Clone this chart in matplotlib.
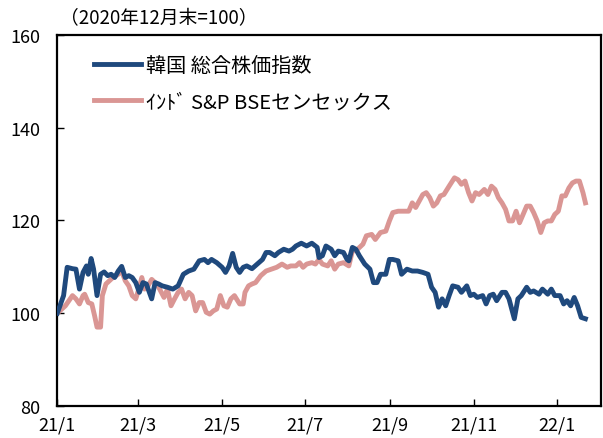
import numpy as np
import pandas as pd
import matplotlib
matplotlib.use('Agg')
import matplotlib.pyplot as plt

plt.rcParams['font.family'] = ['Noto Sans CJK JP', 'DejaVu Sans']

# 2021/1/1 からの経過日数と指数 (2020年12月末=100)
korea_days = [0, 4.6, 7.2, 11.1, 13.6, 16.2, 18.8, 21.3, 22.6, 24.7, 26.5, 29, 31.6, 34.2, 36.8,
              39.3, 41.9, 44.5, 47, 49.6, 52.2, 54.7, 57.3, 59.9, 62.5, 65, 68.9, 71.4, 74, 76.6,
              80.4, 84.3, 88.2, 92, 95.9, 99.7, 103.6, 107.4, 110, 112.6, 116.4, 120.3, 122.8,
              125.4, 128, 130.6, 133.1, 135.7, 138.3, 142.1, 146, 149.8, 152.4, 155, 158.8, 161.4,
              165.3, 169.1, 171.7, 174.2, 178.1, 182, 185.8, 189.7, 191, 193.5, 196.1, 199.9,
              202.5, 205.1, 208.9, 211.5, 212.8, 215.4, 217.9, 220.5, 224.4, 228.2, 230.8, 233.4,
              235.9, 239.8, 242.4, 244.9, 248.8, 251.3, 255.2, 259.1, 262.9, 266.8, 270.6, 273.2,
              275.8, 278.3, 280.9, 283.5, 286, 288.6, 292.5, 295, 298.9, 301.5, 304, 306.6, 310.5,
              313, 315.6, 318.2, 320.7, 324.6, 327.2, 329.7, 333.6, 336.2, 338.7, 342.6, 345.2,
              347.7, 351.6, 354.1, 358, 360.6, 363.1, 367, 369.6, 372.1, 374.7, 377.3, 379.8,
              382.4, 385.5]
korea_vals = [100.0, 103.8, 109.9, 109.6, 109.5, 105.2, 108.8, 110.2, 108.4, 111.8, 109.5, 103.8,
              108.4, 108.9, 108.1, 108.4, 107.7, 109.1, 110.1, 107.7, 108.1, 107.7, 106.6, 104.5,
              106.6, 106.3, 103.1, 106.6, 106.3, 105.9, 105.6, 105.2, 105.9, 108.4, 109.1, 109.5,
              111.3, 111.6, 110.9, 111.6, 110.9, 109.9, 108.8, 110.2, 112.9, 109.9, 108.8, 109.9,
              110.2, 109.6, 110.6, 111.6, 113.1, 113.1, 112.4, 113.1, 113.8, 113.4, 113.8, 114.5,
              115.1, 114.5, 115.1, 114.2, 112.0, 112.4, 114.5, 113.8, 112.4, 113.4, 113.1, 111.6,
              111.3, 114.2, 113.8, 112.4, 110.6, 109.5, 106.6, 106.6, 108.4, 108.4, 111.6, 111.6,
              111.3, 108.4, 109.5, 109.1, 109.1, 108.8, 108.4, 105.6, 104.5, 101.3, 103.1, 101.6,
              103.8, 105.9, 105.6, 104.5, 105.9, 103.8, 104.1, 103.4, 103.8, 102.0, 103.8, 104.1,
              102.7, 104.5, 104.5, 103.1, 98.8, 103.1, 103.8, 105.6, 104.5, 104.8, 104.1, 105.2,
              104.1, 105.2, 103.8, 103.8, 102.0, 102.7, 101.6, 103.4, 101.6, 99.1, 98.8]

india_days = [0, 3.3, 5.9, 8.5, 11.1, 13.6, 16.2, 18.8, 20, 22.6, 25.2, 27.2, 29, 31.6, 32.9, 35.5,
              38, 40.6, 44.5, 47, 49.6, 52.2, 54.7, 57.3, 59.9, 61.7, 63.7, 66.3, 68.9, 71.4, 74,
              77.9, 80.4, 83, 85.6, 88.2, 90.7, 93.3, 95.9, 98.4, 101, 103.6, 106.1, 108.7, 111.3,
              113.9, 116.4, 119, 121.6, 124.1, 126.7, 129.3, 133.1, 135.7, 137, 139.6, 142.1,
              144.7, 148.5, 152.4, 156.3, 160.1, 164, 167.8, 170.4, 174.2, 176.8, 179.4, 182,
              185.8, 188.4, 191, 193.5, 197.4, 199.9, 202.5, 205.1, 208.9, 212.8, 215.4, 219.2,
              223.1, 225.6, 229.5, 232.1, 235.9, 239.8, 242.4, 244.9, 248.8, 252.6, 256.5, 259.1,
              261.6, 264.2, 266.8, 269.3, 271.9, 274.5, 277, 279.6, 282.2, 286, 289.9, 292.5, 295,
              297.6, 300.2, 302.7, 305.3, 307.9, 311.7, 314.3, 316.9, 319.5, 322, 324.6, 327.2,
              329.7, 332.3, 334.9, 337.4, 340, 342.6, 345.2, 347.7, 350.3, 352.9, 355.4, 358,
              360.6, 363.1, 365.7, 368.3, 370.8, 373.4, 376, 378.6, 381.1, 383.7, 385.5]
india_vals = [100.0, 100.9, 101.6, 102.7, 103.8, 103.1, 102.0, 103.8, 104.1, 102.3, 102.0, 99.5,
              97.0, 97.0, 103.8, 106.3, 107.0, 107.7, 108.4, 109.1, 107.0, 105.9, 103.8, 103.1,
              105.6, 107.7, 105.2, 105.9, 107.3, 106.6, 105.6, 103.4, 105.2, 101.6, 103.1, 104.5,
              105.2, 103.1, 104.5, 103.8, 100.5, 102.3, 102.3, 100.2, 99.8, 100.5, 100.9, 103.8,
              101.6, 101.3, 103.1, 103.8, 102.0, 102.0, 104.5, 105.9, 106.3, 106.6, 108.1, 109.1,
              109.5, 109.9, 110.6, 109.9, 110.2, 110.2, 110.9, 109.9, 110.6, 110.9, 110.6, 111.6,
              110.6, 110.2, 111.3, 109.5, 110.6, 110.9, 110.2, 113.4, 113.8, 114.9, 116.7, 117.0,
              115.9, 117.4, 117.7, 119.9, 121.7, 122.0, 122.0, 122.0, 123.8, 122.8, 124.2, 125.6,
              126.0, 124.9, 123.1, 123.8, 125.3, 125.6, 127.4, 129.2, 128.8, 127.8, 128.5, 126.0,
              124.2, 126.0, 125.6, 126.7, 125.6, 127.4, 126.7, 124.9, 123.8, 122.4, 119.9, 119.9,
              122.0, 119.5, 121.3, 123.1, 123.1, 121.7, 119.9, 117.4, 119.5, 119.9, 119.9, 121.3,
              122.0, 125.3, 125.3, 127.0, 128.1, 128.5, 128.5, 126.0, 123.8]

series_labels = ['韓国 総合株価指数', 'ｲﾝﾄﾞ S&P BSEセンセックス']
y_ticks = [80, 100, 120, 140, 160]

base = pd.Timestamp('2021-01-01')
korea_x = base + pd.to_timedelta(korea_days, unit='D')
india_x = base + pd.to_timedelta(india_days, unit='D')

fig = plt.figure(figsize=(6.03, 4.39), dpi=100)
ax = fig.add_axes([0.095, 0.073, 0.902, 0.845])

ax.plot(korea_x, korea_vals, color='#1F497D', lw=3.5, label=series_labels[0],
        solid_joinstyle='round', zorder=3)
ax.plot(india_x, india_vals, color='#DA9694', lw=3.5, label=series_labels[1],
        solid_joinstyle='round', zorder=2)

ax.set_ylim(80, 160)
ax.set_yticks(y_ticks)
ax.set_xlim(base, base + pd.Timedelta(days=397))
ticks = pd.date_range('2021-01-01', '2022-01-01', freq='2MS')
ax.set_xticks(ticks)
ax.set_xticklabels([f'{t.year % 100}/{t.month}' for t in ticks])

ax.tick_params(direction='in', length=5, width=1, labelsize=13)
ax.tick_params(axis='y', pad=12)
ax.tick_params(axis='x', pad=7)
for s in ax.spines.values():
    s.set_linewidth(1.6)

ax.legend(loc='upper left', frameon=False, fontsize=14.5, handlelength=2.3,
          handletextpad=0.25, labelspacing=0.75, bbox_to_anchor=(0.035, 0.995))

fig.text(0.1, 0.958, '（2020年12月末=100）', fontsize=13.5, va='center')

fig.savefig('out.png', dpi=100)
